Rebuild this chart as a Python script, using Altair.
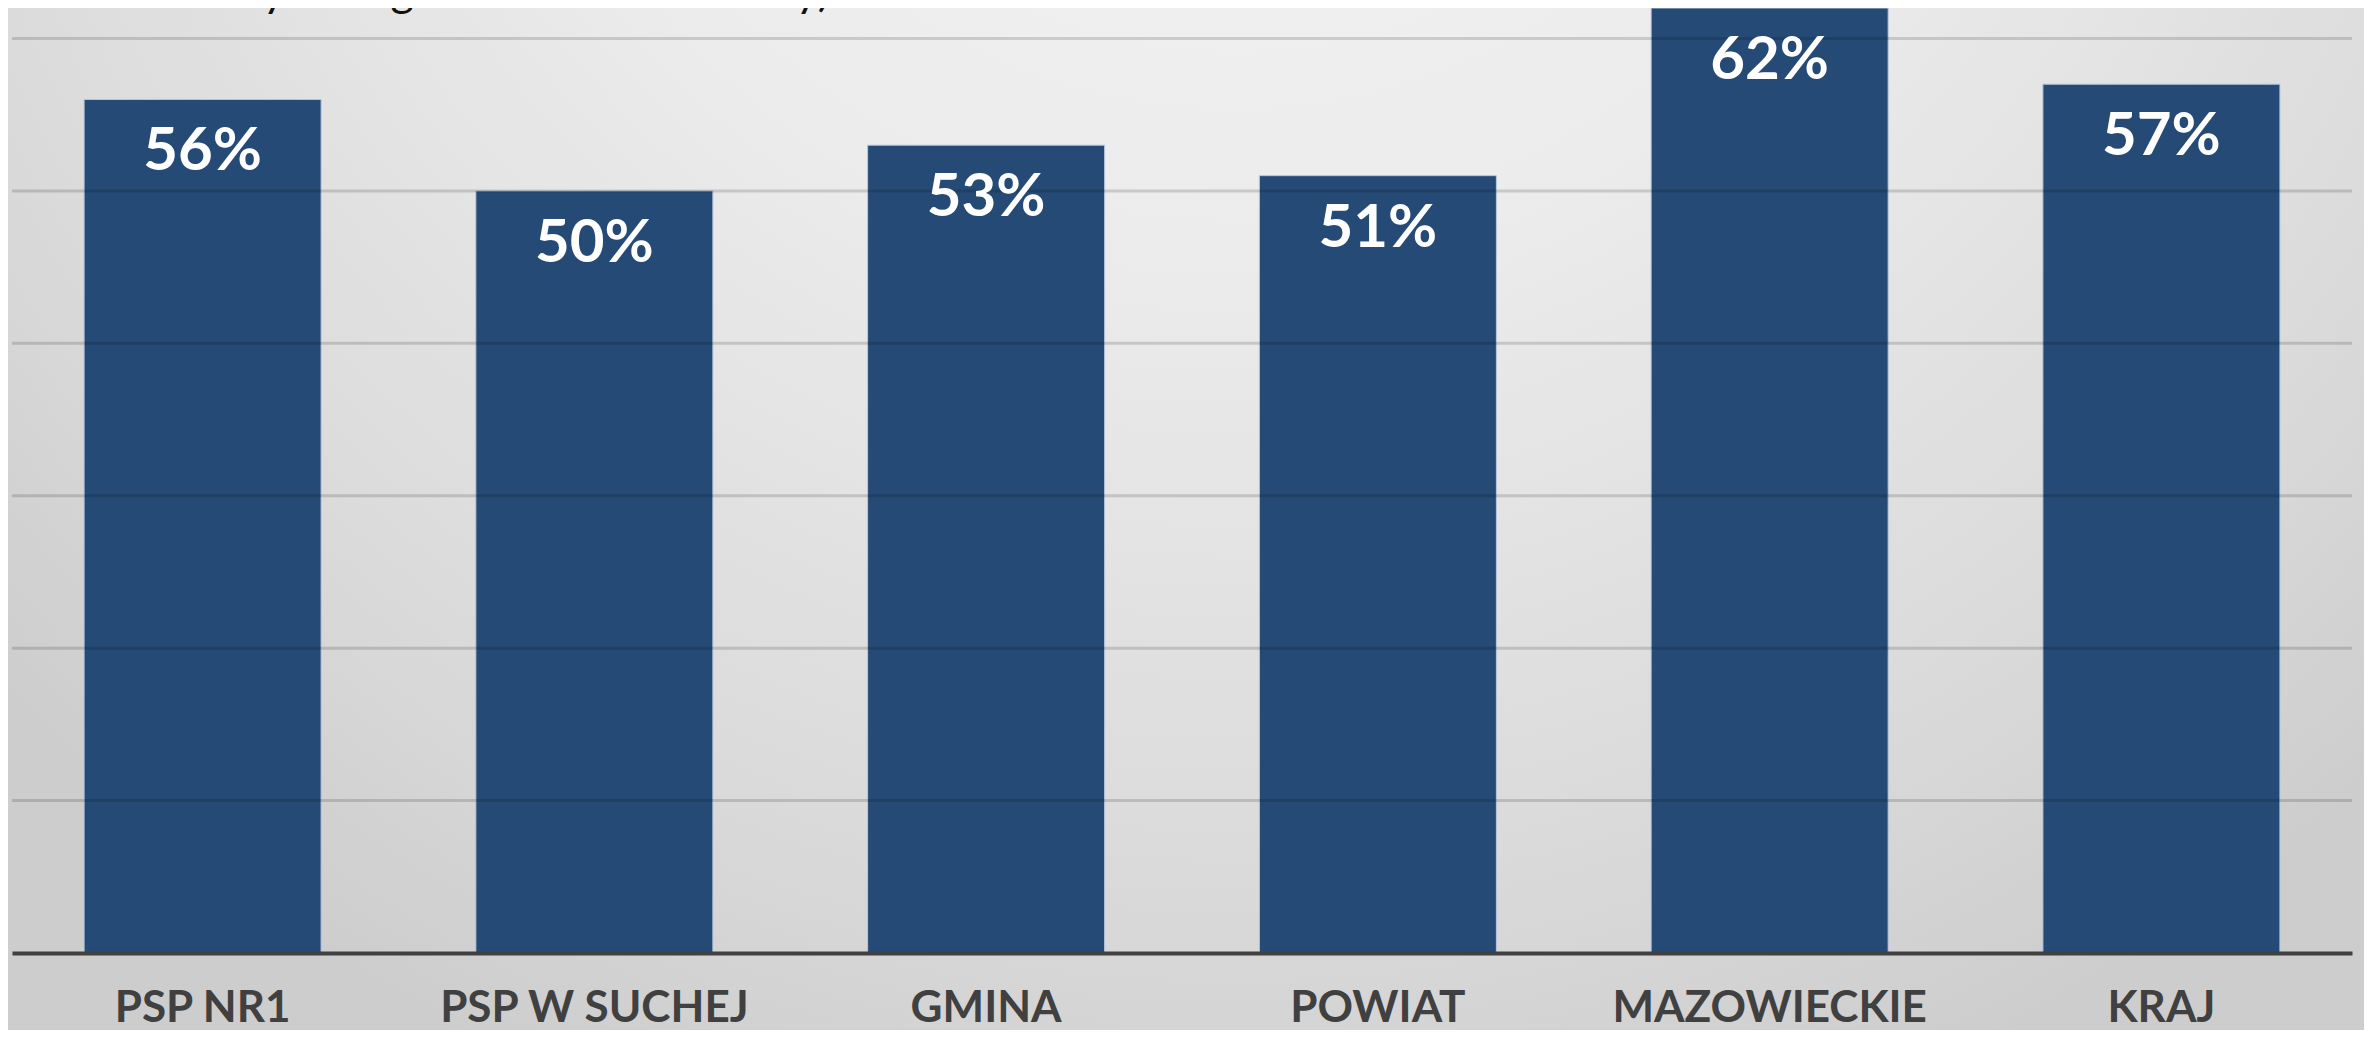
import altair as alt
import pandas as pd

categories = ["PSP NR1", "PSP W SUCHEJ", "GMINA", "POWIAT", "MAZOWIECKIE", "KRAJ"]
values = [56, 50, 53, 51, 62, 57]
value_labels = [f"{v}%" for v in values]
grid_values = [10, 20, 30, 40, 50, 60]
title_text = "średnie wyniki egzaminu ósmoklasisty)"

W, H = 2340, 945
PAD = {"left": 4, "top": 0, "right": 12, "bottom": 77}

df = pd.DataFrame({"cat": categories, "val": values, "label": value_labels})
grid_df = pd.DataFrame({"g": grid_values})
one = pd.DataFrame({"d": [0]})

yscale = alt.Scale(domain=[0, 62], nice=False, zero=True)
xscale = alt.Scale(paddingInner=0.395, paddingOuter=0.184)

x_enc = alt.X(
    "cat:N", sort=categories, title=None, scale=xscale,
    axis=alt.Axis(
        labelAngle=0, labelFont="Lato", labelFontSize=44, labelFontWeight="bold",
        labelColor="#404040", labelPadding=55, labelBaseline="middle", labelLimit=0,
        ticks=False, domainColor="#404040", domainWidth=4, zindex=1, grid=False,
    ),
)

bg = alt.Chart(one).mark_rect(
    fill=alt.RadialGradient(
        gradient="radial", x1=0.52, y1=0.08, r1=0, x2=0.52, y2=0.08, r2=0.72,
        stops=[
            alt.GradientStop(color="#f7f7f7", offset=0),
            alt.GradientStop(color="#ebebeb", offset=0.45),
            alt.GradientStop(color="#dadada", offset=0.8),
            alt.GradientStop(color="#cdcdcd", offset=1),
        ],
    ),
    strokeWidth=0,
).encode(
    x=alt.value(-PAD["left"]), x2=alt.value(W + PAD["right"]),
    y=alt.value(-10), y2=alt.value(H + PAD["bottom"]),
)

bars = alt.Chart(df).mark_bar(color="#264A76", stroke="#b9c6d9", strokeWidth=1).encode(
    x=x_enc, y=alt.Y("val:Q", scale=yscale, axis=None)
)

grid = alt.Chart(grid_df).mark_rule(color="#000000", opacity=0.15, strokeWidth=3).encode(
    y=alt.Y("g:Q", scale=yscale, axis=None)
)

text = alt.Chart(df).mark_text(
    font="Lato", fontSize=60, fontWeight="bold", color="white", baseline="middle", dy=53
).encode(
    x=alt.X("cat:N", sort=categories, scale=xscale),
    y=alt.Y("val:Q", scale=yscale, axis=None),
    text="label:N",
)

title = alt.Chart(one).mark_text(
    text=title_text, font="Lato", fontSize=45, color="#111111", align="left", baseline="alphabetic"
).encode(x=alt.value(61), y=alt.value(-2))

chart = alt.layer(bg, bars, grid, text, title).properties(
    width=W, height=H, autosize=alt.AutoSizeParams(type="none"), padding=PAD
).configure_view(stroke=None)

chart.save("out.html", embed_options={"renderer": "svg", "actions": False})
